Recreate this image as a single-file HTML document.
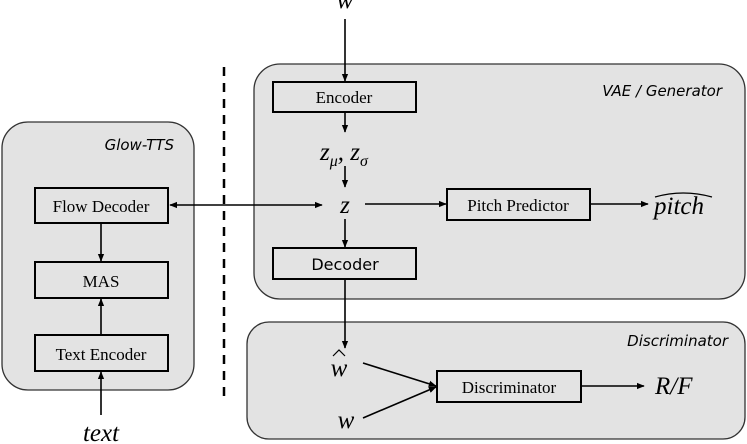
<!DOCTYPE html>
<html><head><meta charset="utf-8"><style>
html,body{margin:0;padding:0;background:#fff;}
svg{display:block;}
.b{font-family:"Liberation Serif",serif;font-size:17px;}
.s{font-family:"DejaVu Sans",sans-serif;font-size:16px;}
.i{font-family:"DejaVu Sans",sans-serif;font-size:15px;font-style:italic;}
.m{font-family:"Liberation Serif",serif;font-style:italic;font-size:25px;}
</style></head><body>
<svg width="747" height="444" viewBox="0 0 747 444" xmlns="http://www.w3.org/2000/svg">
<defs><marker id="a" viewBox="0 0 10 10" refX="9" refY="5" markerWidth="5" markerHeight="5" orient="auto-start-reverse"><path d="M0,1 L10,5 L0,9 z" fill="#000"/></marker></defs>
<g fill="#e3e3e3" stroke="#333" stroke-width="1.3">
<rect x="2" y="122" width="192" height="268" rx="26"/>
<rect x="254" y="64" width="491" height="235" rx="26"/>
<rect x="247" y="322" width="498" height="117" rx="22"/>
</g>
<line x1="224" y1="67" x2="224" y2="400" stroke="#000" stroke-width="2.5" stroke-dasharray="9,7"/>
<text class="i" x="174" y="150" text-anchor="end">Glow-TTS</text>
<text class="i" x="722" y="96" text-anchor="end">VAE / Generator</text>
<text class="i" x="728" y="346" text-anchor="end">Discriminator</text>
<g fill="#e3e3e3" stroke="#000" stroke-width="2">
<rect x="273" y="82" width="143" height="30"/>
<rect x="273" y="248" width="143" height="31"/>
<rect x="447" y="189" width="143" height="31"/>
<rect x="35" y="188" width="133" height="35"/>
<rect x="35" y="262" width="133" height="36"/>
<rect x="35" y="335" width="133" height="36"/>
<rect x="437" y="371" width="144" height="31"/>
</g>
<text class="b" x="344" y="103" text-anchor="middle">Encoder</text>
<text class="s" x="345" y="270" text-anchor="middle">Decoder</text>
<text class="b" x="518" y="211" text-anchor="middle">Pitch Predictor</text>
<text class="b" x="101" y="212" text-anchor="middle">Flow Decoder</text>
<text class="b" x="101" y="287" text-anchor="middle">MAS</text>
<text class="b" x="101" y="360" text-anchor="middle">Text Encoder</text>
<text class="b" x="509" y="393" text-anchor="middle">Discriminator</text>
<g stroke="#000" stroke-width="1.6" fill="none" marker-end="url(#a)">
<line x1="345" y1="19" x2="345" y2="81"/>
<line x1="345" y1="113" x2="345" y2="132"/>
<line x1="345" y1="166" x2="345" y2="187"/>
<line x1="345" y1="219" x2="345" y2="247"/>
<line x1="365" y1="204" x2="446" y2="204"/>
<line x1="591" y1="204" x2="648" y2="204"/>
<line x1="170" y1="205" x2="322" y2="205" marker-start="url(#a)"/>
<line x1="345" y1="280" x2="345" y2="348"/>
<line x1="101" y1="224" x2="101" y2="261"/>
<line x1="101" y1="334" x2="101" y2="299"/>
<line x1="101" y1="415" x2="101" y2="372"/>
<line x1="363" y1="363" x2="436" y2="386"/>
<line x1="363" y1="418" x2="436" y2="387"/>
<line x1="582" y1="386" x2="644" y2="386"/>
</g>
<text class="m" x="345" y="8" text-anchor="middle">w</text>
<text class="m" x="320" y="160">z<tspan font-size="16" dy="6">μ</tspan><tspan dy="-6">, z</tspan><tspan font-size="16" dy="6">σ</tspan></text>
<text class="m" x="345" y="213" text-anchor="middle">z</text>
<text class="m" x="654" y="214">pitch</text>
<path d="M655,197 Q683,189 712,197" stroke="#000" stroke-width="1.2" fill="none"/>
<text class="m" x="339" y="376" text-anchor="middle">w</text>
<path d="M333,356 L339,350 L345,356" stroke="#000" stroke-width="1.2" fill="none"/>
<text class="m" x="346" y="428" text-anchor="middle">w</text>
<text class="m" x="655" y="394" font-size="27">R/F</text>
<text class="m" x="101" y="441" text-anchor="middle" font-style="normal">t<tspan font-style="italic">ext</tspan></text>
</svg>
</body></html>
